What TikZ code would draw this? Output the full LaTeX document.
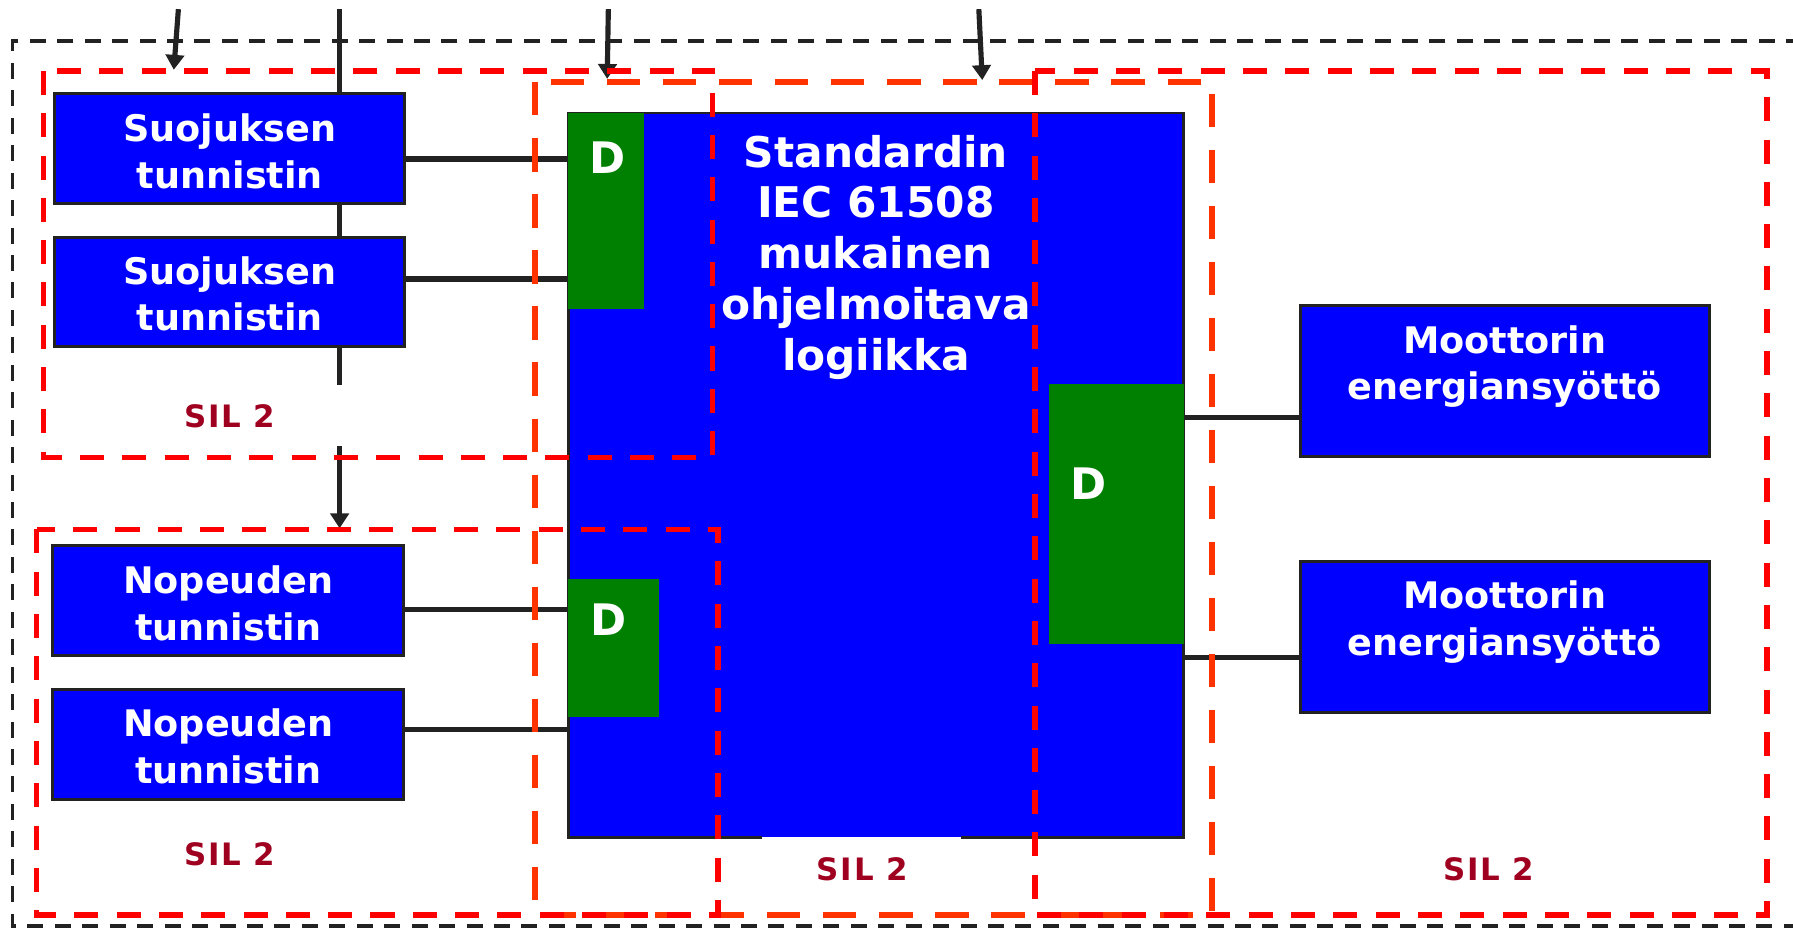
\documentclass[tikz,border=0pt]{standalone}
\usepackage{fontspec}
\setmainfont{DejaVu Sans}
\usetikzlibrary{arrows.meta,calc}
\definecolor{pblue}{RGB}{0,0,255}
\definecolor{pgreen}{RGB}{0,128,0}
\definecolor{sred}{RGB}{255,0,0}
\definecolor{sorange}{RGB}{255,51,0}
\definecolor{silred}{RGB}{160,0,32}
\definecolor{ink}{RGB}{34,34,34}
\begin{document}
\begin{tikzpicture}[x=1pt,y=-1pt,
  box/.style={draw=ink,line width=2.5pt,fill=pblue,inner sep=0pt},
  boxtext/.style={text=white,font=\fontsize{32}{41}\selectfont\bfseries,align=center,inner sep=0pt},
  maintext/.style={text=white,font=\fontsize{37}{44.5}\selectfont\bfseries,align=center,inner sep=0pt},
  dtext/.style={text=white,font=\fontsize{38}{44}\selectfont\bfseries,inner sep=0pt},
  greenbox/.style={fill=pgreen,inner sep=0pt},
  siltext/.style={text=silred,font=\fontsize{27}{32}\selectfont\bfseries\addfontfeatures{LetterSpace=6},inner sep=0pt},
  conn/.style={draw=ink,line width=4.5pt},
  arr/.style={draw=ink,line width=4.5pt,-{Triangle[length=13pt,width=16pt]}},
  reddash/.style={draw=sred,line width=5pt,dash pattern=on 21pt off 16pt},
  orangedash/.style={draw=sorange,line width=5.5pt,dash pattern=on 29pt off 20pt},
  blackdash/.style={draw=ink,line width=3.3pt,dash pattern=on 14pt off 10pt}
]
\useasboundingbox (0,0) rectangle (1568,812);

% outer black dashed frame
\draw[blackdash] (1600,36) -- (11,36) -- (11,810) -- (1600,810);

% input arrows and bus line
\coordinate (a1s) at (156,8);  \coordinate (a1e) at (152,61);
\coordinate (bus1) at (297,8); \coordinate (bus2) at (297,337);
\coordinate (a3s) at (297,390); \coordinate (a3e) at (297,462);
\coordinate (a4s) at (532,8);  \coordinate (a4e) at (531,69);
\coordinate (a5s) at (856,8);  \coordinate (a5e) at (859,70);
\draw[arr] (a1s) -- (a1e);
\draw[conn] (bus1) -- (bus2);
\draw[arr] (a3s) -- (a3e);
\draw[arr] (a4s) -- (a4e);
\draw[arr] (a5s) -- (a5e);

% main programmable logic block
\node[fill=pblue,inner sep=0pt,minimum width=538pt,minimum height=633pt] (main) at (766,415.5) {};
\draw[draw=ink,line width=2.5pt] ($(main.south west)+(170,0)$) -- (main.south west) -- (main.north west) -- (main.north east) -- (main.south east) -- ($(main.south east)+(-195,0)$);
\node[greenbox,minimum width=66pt,minimum height=171pt] (G1) at (530,184.5) {};
\node[greenbox,minimum width=79pt,minimum height=121pt] (G2) at (536.5,566.5) {};
\node[greenbox,minimum width=118pt,minimum height=227pt] (G3) at (976,449.5) {};
\node[dtext] (D1) at (531,138) {D};
\node[dtext] (D2) at (532,542) {D};
\node[dtext] (D3) at (952,423) {D};
\node[maintext] (maint) at (766,225) {Standardin\\IEC 61508\\mukainen\\ohjelmoitava\\logiikka};

% sensor and actuator boxes
\node[box,minimum width=306pt,minimum height=96pt] (B1) at (201,130) {};
\node[box,minimum width=306pt,minimum height=95pt] (B2) at (201,255.5) {};
\node[box,minimum width=307pt,minimum height=96pt] (B3) at (199.5,525) {};
\node[box,minimum width=307pt,minimum height=96pt] (B4) at (199.5,651) {};
\node[box,minimum width=358pt,minimum height=132pt] (B5) at (1316,333) {};
\node[box,minimum width=358pt,minimum height=132pt] (B6) at (1316,557) {};
\node[boxtext] (B1t) at (201,132.5) {Suojuksen\\tunnistin};
\node[boxtext] (B2t) at (201,257) {Suojuksen\\tunnistin};
\node[boxtext] (B3t) at (199.5,528) {Nopeuden\\tunnistin};
\node[boxtext] (B4t) at (199.5,653) {Nopeuden\\tunnistin};
\node[boxtext] (B5t) at (1316,320.5) {Moottorin\\energiansyöttö};
\node[boxtext] (B6t) at (1316,544) {Moottorin\\energiansyöttö};

% connectors
\draw[conn] ($(B1.east)+(0,9)$) coordinate (c1) -- (c1 -| main.west);
\draw[conn] ($(B2.east)+(0,-11.5)$) coordinate (c2) -- (c2 -| main.west);
\draw[conn] ($(B3.east)+(0,8)$) coordinate (c3) -- (c3 -| main.west);
\draw[conn] ($(B4.east)+(0,-13)$) coordinate (c4) -- (c4 -| main.west);
\draw[conn] ($(B5.west)+(0,32)$) coordinate (c5) -- (c5 -| main.east);
\draw[conn] ($(B6.west)+(0,18)$) coordinate (c6) -- (c6 -| main.east);

% SIL labels
\node[siltext] (s1) at (201,364) {SIL 2};
\node[siltext] (s2) at (201,747) {SIL 2};
\node[siltext] (s3) at (754,760) {SIL 2};
\node[siltext] (s4) at (1302,760) {SIL 2};

% SIL boundaries
\draw[orangedash] (468,72) rectangle (1060,800);
\draw[reddash] (38,62) rectangle (623,400);
\draw[reddash] (32,463) rectangle (628,800);
\draw[reddash] (905,62) rectangle (1545,800);
\end{tikzpicture}
\end{document}
